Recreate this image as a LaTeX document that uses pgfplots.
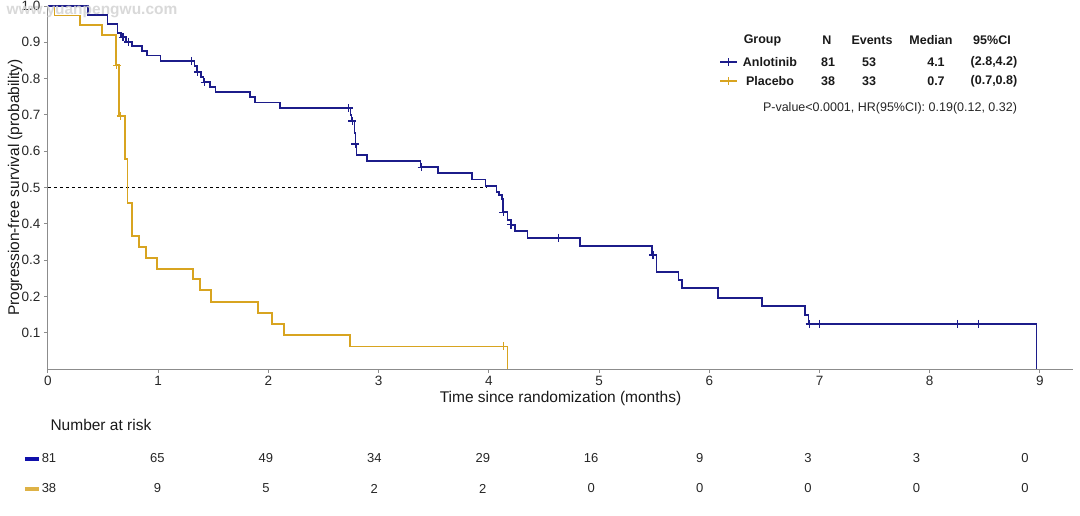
\documentclass[border=0pt]{standalone}
\usepackage{pgfplots}
\pgfplotsset{compat=1.18}
\usepackage{fontspec}
\setmainfont{Liberation Sans}
\definecolor{anlo}{RGB}{28,28,138}
\definecolor{plac}{RGB}{216,164,32}
\definecolor{anlobar}{RGB}{16,16,170}
\definecolor{placbar}{RGB}{222,178,70}
\definecolor{axgray}{RGB}{140,140,140}
\begin{document}
\begin{tikzpicture}
\useasboundingbox (-48pt,-146pt) rectangle (1032pt,369pt);
\begin{axis}[
  at={(0pt,0pt)}, anchor=south west,
  scale only axis, width=1025pt, height=363pt,
  xmin=0, xmax=9.3, ymin=0, ymax=1.0,
  axis x line*=bottom, axis y line*=left,
  axis line style={axgray, line width=1pt, -},
  tick align=outside, major tick length=4pt,
  tick style={axgray, line width=1pt},
  xtick={0,1,2,3,4,5,6,7,8,9},
  ytick={0.1,0.2,0.3,0.4,0.5,0.6,0.7,0.8,0.9,1.0},
  yticklabels={0.1,0.2,0.3,0.4,0.5,0.6,0.7,0.8,0.9,1.0},
  ticklabel style={font=\fontsize{13.5}{15}\selectfont, text=black!85},
  /pgf/number format/assume math mode=true,
  xlabel={Time since randomization (months)},
  ylabel={Progression-free survival (probability)},
  label style={font=\fontsize{15.5}{18}\selectfont, text=black!90},
  xlabel style={at={(axis description cs:0.5,0)}, anchor=center, yshift=-29pt},
  ylabel style={at={(axis description cs:-0.032,0.5)}, anchor=center},
  clip=false,
]
% median reference line
\addplot[black, dashed, line width=0.6pt] coordinates {(0,0.5) (3.98,0.5)};
% Placebo
\addplot[const plot, plac, line width=1.7pt] coordinates {
(0,1.0) (0.06,0.974) (0.29,0.947) (0.49,0.921) (0.617,0.837) (0.645,0.697)
(0.70,0.578) (0.72,0.457) (0.76,0.366) (0.826,0.336) (0.889,0.306) (0.99,0.275)
(1.316,0.248) (1.379,0.218) (1.479,0.185) (1.906,0.154) (2.033,0.124) (2.142,0.094)
(2.74,0.062) (4.17,0.062) (4.17,0.0)};
\addplot[only marks, mark=+, mark size=4pt, plac, line width=1.2pt] coordinates {
(0.625,0.837) (0.66,0.697) (4.13,0.062)};
% Anlotinib
\addplot[const plot, anlo, line width=1.7pt] coordinates {
(0,1.0) (0.36,0.975) (0.54,0.951) (0.63,0.926) (0.66,0.914) (0.71,0.901)
(0.76,0.889) (0.85,0.876) (0.90,0.864) (1.02,0.849) (1.33,0.835) (1.35,0.818)
(1.39,0.805) (1.41,0.790) (1.47,0.777) (1.52,0.764) (1.83,0.749) (1.88,0.734)
(2.105,0.719) (2.745,0.700) (2.755,0.683) (2.78,0.650) (2.79,0.620) (2.80,0.590)
(2.895,0.573) (3.38,0.556) (3.54,0.540) (3.85,0.522) (3.97,0.504) (4.07,0.488)
(4.09,0.480) (4.12,0.468) (4.13,0.432) (4.17,0.410) (4.20,0.397) (4.24,0.380)
(4.35,0.361) (4.83,0.339) (5.48,0.314) (5.52,0.267) (5.72,0.245) (5.75,0.223)
(6.08,0.196) (6.48,0.174) (6.87,0.149) (6.90,0.124) (8.97,0.124) (8.97,0.0)};
\addplot[only marks, mark=+, mark size=4pt, anlo, line width=1.2pt] coordinates {
(0.68,0.914) (0.73,0.901) (1.30,0.849) (1.36,0.818) (1.42,0.790) (2.73,0.719)
(2.76,0.683) (2.79,0.620) (3.39,0.556) (4.13,0.432) (4.20,0.397) (4.63,0.361)
(5.49,0.314) (6.91,0.124) (7.00,0.124) (8.25,0.124) (8.44,0.124)};
\end{axis}
% legend table
\begin{scope}[every node/.style={font=\fontsize{12.5}{15}\selectfont\bfseries, text=black!90, anchor=center}]
\node at (714.5pt,329pt) {Group};
\node at (779pt,329pt) {N};
\node at (824pt,329pt) {Events};
\node at (883pt,329pt) {Median};
\node at (944pt,329pt) {95\%CI};
\node at (722pt,307pt) {Anlotinib};
\node at (780pt,307pt) {81};
\node at (821pt,307pt) {53};
\node at (888pt,307pt) {4.1};
\node at (946pt,307pt) {(2.8,4.2)};
\node at (722pt,288pt) {Placebo};
\node at (780pt,288pt) {38};
\node at (821pt,288pt) {33};
\node at (888pt,288pt) {0.7};
\node at (946pt,288pt) {(0.7,0.8)};
\end{scope}
\draw[anlo, line width=1.6pt] (672pt,307pt) -- (689pt,307pt);
\draw[anlo, line width=1.2pt] (680.5pt,303pt) -- (680.5pt,311pt) (676.5pt,307pt) -- (684.5pt,307pt);
\draw[plac, line width=1.6pt] (672pt,288pt) -- (689pt,288pt);
\draw[plac, line width=1.2pt] (680.5pt,284pt) -- (680.5pt,292pt) (676.5pt,288pt) -- (684.5pt,288pt);
\node[font=\fontsize{12.5}{15}\selectfont, text=black!85] at (842pt,261pt) {P-value<0.0001, HR(95\%CI): 0.19(0.12, 0.32)};
% risk table
\node[font=\fontsize{15.5}{18}\selectfont, text=black!90, anchor=west] at (-1pt,-56pt) {Number at risk};
\draw[anlobar, line width=4pt] (-23pt,-89.5pt) -- (-9pt,-89.5pt);
\draw[placbar, line width=4pt] (-23pt,-119.5pt) -- (-9pt,-119.5pt);
\foreach \n [count=\i from 0] in {81,65,49,34,29,16,9,3,3,0}
  \node[font=\fontsize{13}{15}\selectfont, text=black!85] at ({1+108.44*\i pt},-89.5pt) {\n};
\foreach \n [count=\i from 0] in {38,9,5,2,2,0,0,0,0,0}
  \node[font=\fontsize{13}{15}\selectfont, text=black!85] at ({1+108.44*\i pt},-119.5pt) {\n};
% watermark
\node[font=\fontsize{15.5}{18}\selectfont\bfseries, text=gray!35, opacity=0.85] at (44pt,357pt) {www.yuanpengwu.com};
\end{tikzpicture}
\end{document}
